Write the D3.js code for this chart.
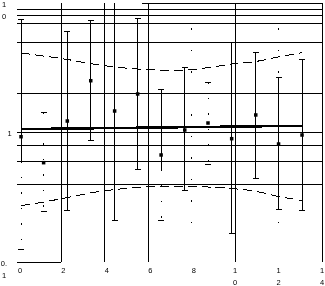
<!DOCTYPE html>
<html>
<head>
<meta charset="utf-8">
<script src="https://cdn.jsdelivr.net/npm/d3@7"></script>
<style>
body { margin: 0; background: #fff; }
svg { display: block; will-change: transform; opacity: 0.999; }
text { font-family: "Liberation Sans", Arial, sans-serif; font-size: 7.5px; fill: #000; }
line, path { shape-rendering: crispEdges; }
</style>
</head>
<body>
<div id="chart"></div>
<script>
// study positions, estimates and intervals
const studyX = [0.14, 1.18, 2.27, 3.35, 4.45, 5.51, 6.59, 7.68, 8.75, 9.84, 10.95, 12.0, 13.08];
const studyEst = [0.93, 0.586, 1.23, 2.52, 1.47, 1.99, 0.672, 1.048, 1.187, 0.898, 1.37, 0.817, 0.959];
const studyHi = [7.52, 1.44, 6.07, 7.34, 14, 7.66, 2.14, 3.18, 2.45, 4.96, 4.18, 2.68, 3.69];
const studyLo = [0.125, 0.245, 0.252, 0.877, 0.211, 0.521, 0.211, 0.354, 0.572, 0.166, 0.444, 0.256, 0.252];
const studyStyle = ["solid", "dotted", "solid", "solid", "solid", "solid", "solid", "solid", "dotted", "solid", "solid", "solid", "solid"];
const solidCut = [0.6, null, null, null, null, null, 0.515, null, null, null, null, null, null];

// fitted line and confidence band
const fitLine = [1.065, 1.13];
const bandUpper = [4.13, 3.91, 3.68, 3.41, 3.22, 3.10, 3.05, 3.05, 3.18, 3.39, 3.55, 3.85, 4.16];
const bandLower = [0.273, 0.291, 0.315, 0.342, 0.363, 0.377, 0.383, 0.385, 0.380, 0.370, 0.352, 0.321, 0.299];

// grid and ticks
const hGrid = [9, 8, 7, 5, 2, 1, 0.8, 0.6, 0.4];
const vGrid = [2, 4, 6, 10, 14];
const vDotted = [8, 12];
const xTicks = [0, 2, 4, 6, 8, 10, 12, 14];
const xTickLabels = ["0", "2", "4", "6", "8", "10", "12", "14"];
const yTicks = [10, 1, 0.1];
const yTickLabels = ["10", "1", "0.1"];

const W = 325, H = 286;
const svg = d3.select("#chart").append("svg").attr("width", W).attr("height", H);

const x = d3.scaleLinear().domain([0, 14]).range([18, 322]);
const y = d3.scaleLog().domain([0.1, 10]).range([262, 3.3]);

svg.append("clipPath").attr("id", "plot")
  .append("rect").attr("x", 16).attr("y", 3).attr("width", 307).attr("height", 260);

const g = svg.append("g").attr("clip-path", "url(#plot)");

// horizontal lines
g.selectAll(".hg").data(hGrid).enter().append("line")
  .attr("x1", 17).attr("x2", x(14))
  .attr("y1", d => y(d)).attr("y2", d => y(d))
  .attr("stroke", "#000").attr("stroke-width", 1);

// partial frame pieces
g.append("line").attr("x1", x(5.7)).attr("x2", x(14)).attr("y1", y(10) + 0.5).attr("y2", y(10) + 0.5).attr("stroke", "#000");
g.append("line").attr("x1", 17).attr("x2", x(2)).attr("y1", y(0.1)).attr("y2", y(0.1)).attr("stroke", "#000");

// vertical lines
g.selectAll(".vg").data(vGrid).enter().append("line")
  .attr("x1", d => x(d)).attr("x2", d => x(d))
  .attr("y1", y(10)).attr("y2", y(0.1))
  .attr("stroke", "#000").attr("stroke-width", 1);

g.selectAll(".vd").data(vDotted).enter().append("line")
  .attr("x1", d => x(d)).attr("x2", d => x(d))
  .attr("y1", y(10) + 25).attr("y2", y(0.1) - 30)
  .attr("stroke", "#000").attr("stroke-dasharray", "1.5,20");

// confidence band
const band = d3.line().x((d, i) => x(studyX[i])).y(d => y(d)).curve(d3.curveMonotoneX);
[bandUpper, bandLower].forEach(b => {
  g.append("path").attr("d", band(b))
    .attr("fill", "none").attr("stroke", "#000").attr("stroke-width", 1)
    .attr("stroke-dasharray", "9,5");
});

// error bars
studyX.forEach((sx, i) => {
  const cx = x(sx);
  const lo = studyLo[i], hi = studyHi[i];
  if (studyStyle[i] === "solid") {
    const cut = solidCut[i] || lo;
    g.append("line").attr("x1", cx).attr("x2", cx).attr("y1", y(hi)).attr("y2", y(cut))
      .attr("stroke", "#000");
    if (solidCut[i]) {
      g.append("line").attr("x1", cx).attr("x2", cx).attr("y1", y(cut)).attr("y2", y(lo))
        .attr("stroke", "#000").attr("stroke-dasharray", "1.5,14");
    }
  } else {
    g.append("line").attr("x1", cx).attr("x2", cx).attr("y1", y(hi)).attr("y2", y(lo))
      .attr("stroke", "#000").attr("stroke-dasharray", "1.5,14");
  }
  [lo, hi].forEach(v => {
    g.append("line").attr("x1", cx - 3).attr("x2", cx + 3).attr("y1", y(v)).attr("y2", y(v))
      .attr("stroke", "#000");
  });
});

// fitted line
g.append("line")
  .attr("x1", x(studyX[0])).attr("x2", x(studyX[studyX.length - 1]))
  .attr("y1", y(fitLine[0])).attr("y2", y(fitLine[1]))
  .attr("stroke", "#000").attr("stroke-width", 2.5);

// points
g.selectAll(".pt").data(studyX).enter().append("rect")
  .attr("x", d => x(d) - 1.75)
  .attr("y", (d, i) => y(studyEst[i]) - 1.75)
  .attr("width", 3.5).attr("height", 3.5)
  .attr("fill", "#000");

// tick labels (wrapped into narrow columns)
const splitLabel = s => s.match(/\d\.?/g);

yTicks.forEach((t, i) => {
  const lines = splitLabel(yTickLabels[i]);
  const lx = lines.length > 1 ? 4 : 9.7;
  const tx = svg.append("text")
    .attr("text-anchor", "middle")
    .attr("x", lx)
    .attr("y", y(t) + 1 + 2.7);
  lines.forEach((l, k) => {
    tx.append("tspan").attr("x", lx).attr("dy", k === 0 ? 0 : 12).text(l);
  });
});

xTicks.forEach((t, i) => {
  const lines = splitLabel(xTickLabels[i]);
  const px = x(t) + (lines.length > 1 ? 0 : 2);
  const tx = svg.append("text")
    .attr("text-anchor", "middle")
    .attr("x", px)
    .attr("y", 270 + 2.7);
  lines.forEach((l, k) => {
    tx.append("tspan").attr("x", px).attr("dy", k === 0 ? 0 : 12).text(l);
  });
});
</script>
</body>
</html>
